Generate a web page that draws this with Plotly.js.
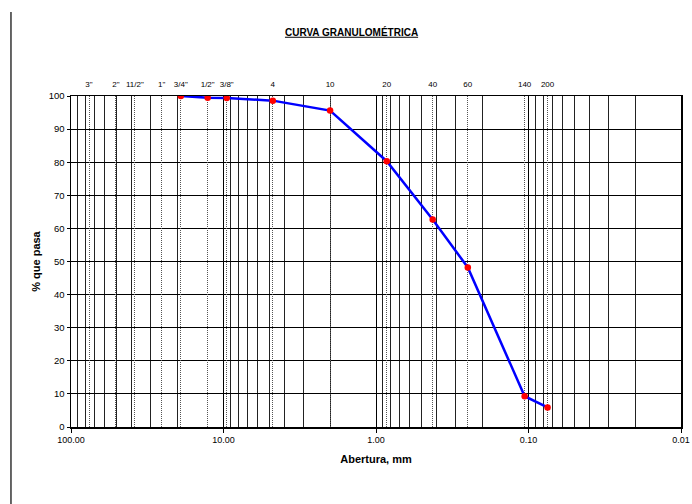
<!DOCTYPE html>
<html>
<head>
<meta charset="utf-8">
<script src="https://cdn.plot.ly/plotly-3.0.1.min.js"></script>
<style>
  html, body { margin: 0; padding: 0; background: #fff; }
  #chart { width: 692px; height: 504px; }
</style>
</head>
<body>
<div id="chart"></div>
<script>
// Sieve series: nominal designation and opening (mm)
const sieveLabels = ['3"', '2"', '11/2"', '1"', '3/4"', '1/2"', '3/8"', '4', '10', '20', '40', '60', '140', '200'];
const sieveOpenings = [76.2, 50.8, 38.1, 25.4, 19.05, 12.7, 9.525, 4.75, 2.0, 0.85, 0.425, 0.25, 0.106, 0.075];

// Grading test results
const testOpenings = [19.05, 12.7, 9.525, 4.75, 2.0, 0.85, 0.425, 0.25, 0.106, 0.075];
const percentPassing = [100, 99.5, 99.4, 98.6, 95.6, 80.3, 62.7, 48.2, 9.3, 5.9];

// Bottom axis decade labels
const decadeValues = [100, 10, 1, 0.1, 0.01];
const decadeLabels = ['100.00', '10.00', '1.00', '0.10', '0.01'];

// Intermediate log grid (2..9 within each decade)
const minorGrid = [];
[10, 1, 0.1, 0.01].forEach(base => {
  for (let m = 2; m <= 9; m++) minorGrid.push(+(m * base).toPrecision(6));
});

const FONT = 'Arial, "Liberation Sans", sans-serif';

const curve = {
  x: testOpenings,
  y: percentPassing,
  xaxis: 'x',
  yaxis: 'y',
  type: 'scatter',
  mode: 'lines+markers',
  line: { color: '#0000FF', width: 2.5 },
  marker: { color: '#FF0000', size: 6.5 },
  hoverinfo: 'x+y',
  showlegend: false
};

// Carries the sieve axis along the top
const sieveRef = {
  x: sieveOpenings,
  y: sieveOpenings.map(() => null),
  xaxis: 'x2',
  yaxis: 'y',
  type: 'scatter',
  mode: 'markers',
  hoverinfo: 'skip',
  showlegend: false
};

const layout = {
  width: 692,
  height: 504,
  margin: { l: 71, r: 11, t: 96, b: 77 },
  paper_bgcolor: '#fff',
  plot_bgcolor: '#fff',
  font: { family: FONT, color: '#000', size: 9 },
  title: {
    text: '<u><b>CURVA GRANULOMÉTRICA</b></u>',
    font: { family: FONT, size: 10, color: '#000' },
    xref: 'container', x: 0.508,
    yref: 'container', y: 0.936, yanchor: 'middle'
  },
  xaxis: {
    type: 'log',
    range: [2, -2],
    tickmode: 'array',
    tickvals: decadeValues,
    ticktext: decadeLabels,
    tickfont: { family: FONT, size: 9, color: '#000' },
    ticks: 'outside', ticklen: 4, tickcolor: '#000',
    showgrid: true, gridcolor: '#000', gridwidth: 1,
    minor: { tickmode: 'array', tickvals: minorGrid, showgrid: true, gridcolor: '#222', gridwidth: 1, ticks: '' },
    showline: true, linecolor: '#000', linewidth: 1.5, mirror: true,
    zeroline: false,
    title: { text: '<b>Abertura, mm</b>', font: { family: FONT, size: 11, color: '#000' }, standoff: 11 }
  },
  xaxis2: {
    type: 'log',
    range: [2, -2],
    overlaying: 'x',
    side: 'top',
    anchor: 'y',
    tickmode: 'array',
    tickvals: sieveOpenings,
    ticktext: sieveLabels,
    tickfont: { family: FONT, size: 8, color: '#000' },
    ticks: 'outside', ticklen: 5, tickcolor: 'rgba(0,0,0,0)',
    showgrid: true, gridcolor: '#555', gridwidth: 1, griddash: '1px,1px',
    showline: false, zeroline: false
  },
  yaxis: {
    range: [0, 100],
    tickmode: 'linear', tick0: 0, dtick: 10,
    tickfont: { family: FONT, size: 9.5, color: '#000' },
    ticks: 'outside', ticklen: 3, tickcolor: '#000',
    showgrid: true, gridcolor: '#000', gridwidth: 1,
    showline: true, linecolor: '#000', linewidth: 1.5, mirror: true,
    zeroline: false,
    title: { text: '<b>% que pasa</b>', font: { family: FONT, size: 11, color: '#000' }, standoff: 6 }
  },
  shapes: [
    // page rule on the left edge
    { type: 'line', xref: 'paper', yref: 'paper',
      x0: -0.0984, x1: -0.0984, y0: 1.2538, y1: -0.2326,
      line: { color: '#000', width: 1.2 } }
  ]
};

Plotly.newPlot('chart', [sieveRef, curve], layout, { staticPlot: true, displayModeBar: false });
</script>
</body>
</html>
